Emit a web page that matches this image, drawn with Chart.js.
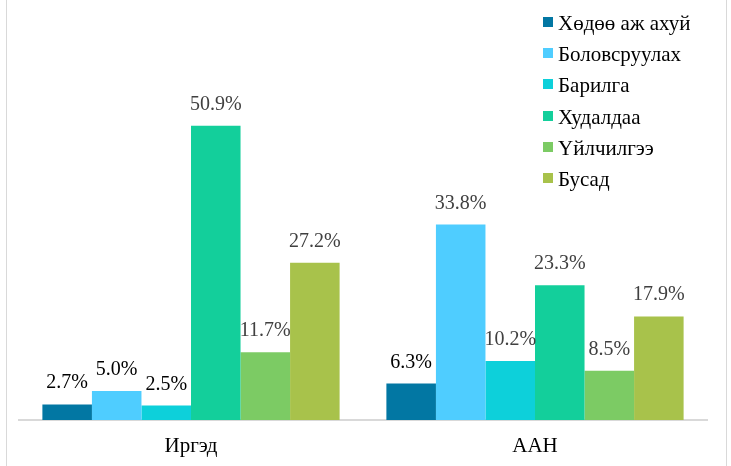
<!DOCTYPE html>
<html>
<head>
<meta charset="utf-8">
<script src="https://cdn.jsdelivr.net/npm/chart.js@4/dist/chart.umd.min.js"></script>
<style>
html,body{margin:0;padding:0;background:#fff;}
#wrap{position:relative;width:731px;height:466px;overflow:hidden;}
#frame{position:absolute;left:6px;top:-2px;width:719px;height:469px;border:1px solid #d9d9d9;}
#c{position:absolute;left:0;top:0;}
#legend{position:absolute;left:543px;top:7.5px;font-family:'Liberation Serif';font-size:21px;color:#000;}
#legend .it{height:31.4px;line-height:31.4px;white-space:nowrap;}
#legend .sw{display:inline-block;width:10px;height:10px;margin-right:5px;vertical-align:3px;}
</style>
</head>
<body>
<div id="wrap">
 <div id="frame"></div>
 <canvas id="c" width="731" height="466"></canvas>
 <div id="legend"></div>
</div>
<script>
var FONT="'Liberation Serif'";
// categories and series
var cats=['Иргэд','ААН'];
var series=['Хөдөө аж ахуй','Боловсруулах','Барилга','Худалдаа','Үйлчилгээ','Бусад'];
var irgedVals=[2.7,5.0,2.5,50.9,11.7,27.2];
var aanVals=[6.3,33.8,10.2,23.3,8.5,17.9];
var colors=['#0277a3','#4fcdff','#0dd0da','#13cf9b','#7ccb64','#a8c24b'];
// label colour: small values black, others dark gray
var lblDark=[['#000','#000'],['#000','#404040'],['#000','#404040'],['#404040','#404040'],['#404040','#404040'],['#404040','#404040']];

var ds=series.map(function(s,i){
 return {label:s,data:[irgedVals[i],aanVals[i]],backgroundColor:colors[i],borderWidth:0,
  barPercentage:1,categoryPercentage:0.864};
});

var valueLabels={
 id:'valueLabels',
 afterDatasetsDraw:function(chart){
  var ctx=chart.ctx;
  ctx.save();
  ctx.font='20px '+FONT;
  ctx.textAlign='center';ctx.textBaseline='alphabetic';
  chart.data.datasets.forEach(function(d,i){
   chart.getDatasetMeta(i).data.forEach(function(bar,j){
    ctx.fillStyle=lblDark[i][j];
    ctx.fillText(d.data[j].toFixed(1)+'%',bar.x,bar.y-16);
   });
  });
  ctx.restore();
 }
};

new Chart(document.getElementById('c'),{
 type:'bar',
 data:{labels:cats,datasets:ds},
 options:{
  responsive:false,animation:false,
  layout:{padding:{left:19,right:24,top:73,bottom:0}},
  plugins:{legend:{display:false},tooltip:{enabled:false}},
  scales:{
   x:{grid:{display:false,drawTicks:false},border:{display:true,color:'#d9d9d9',width:2},
      ticks:{color:'#000',padding:14,font:{family:FONT,size:21}},
      afterFit:function(s){s.height=46;}},
   y:{display:false,min:0,max:60}
  }
 },
 plugins:[valueLabels]
});

// legend
document.getElementById('legend').innerHTML=series.map(function(s,i){
 return '<div class="it"><span class="sw" style="background:'+colors[i]+'"></span>'+s+'</div>';
}).join('');
</script>
</body>
</html>
